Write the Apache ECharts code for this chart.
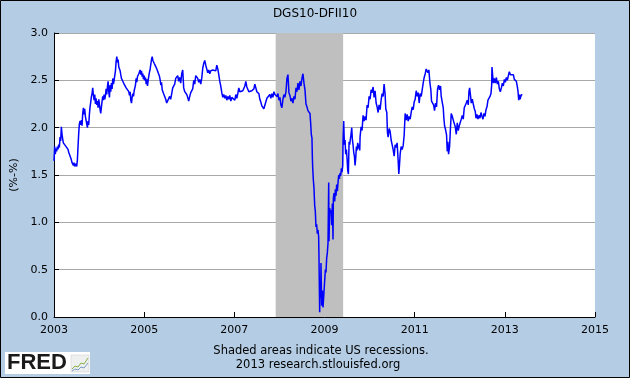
<!DOCTYPE html>
<html>
<head>
<meta charset="utf-8">
<script src="https://cdn.jsdelivr.net/npm/echarts@6/dist/echarts.min.js"></script>
<style>
html,body{margin:0;padding:0;background:#b4cde5;}
#chart{width:630px;height:378px;}
</style>
</head>
<body>
<div id="chart"></div>
<script>
var chartTitle = 'DGS10-DFII10';
var yAxisName = '(%-%)';
var xTickLabels = ['2003','2005','2007','2009','2011','2013','2015'];
var yTickLabels = ['0.0','0.5','1.0','1.5','2.0','2.5','3.0'];
var recessions = [[2007.917, 2009.414]];
var footerLines = ['Shaded areas indicate US recessions.', '2013 research.stlouisfed.org'];

var years = [
2003.000,2003.015,2003.030,2003.044,2003.059,2003.074,2003.089,2003.104,2003.119,2003.133,
2003.148,2003.163,2003.178,2003.193,2003.207,2003.222,2003.237,2003.252,2003.267,2003.281,
2003.296,2003.311,2003.326,2003.341,2003.356,2003.370,2003.385,2003.400,2003.415,2003.430,
2003.444,2003.459,2003.474,2003.489,2003.504,2003.519,2003.533,2003.548,2003.563,2003.578,
2003.593,2003.607,2003.622,2003.637,2003.652,2003.667,2003.681,2003.696,2003.711,2003.726,
2003.741,2003.756,2003.770,2003.785,2003.800,2003.815,2003.830,2003.844,2003.859,2003.874,
2003.889,2003.904,2003.919,2003.933,2003.948,2003.963,2003.978,2003.993,2004.007,2004.022,
2004.037,2004.052,2004.067,2004.081,2004.096,2004.111,2004.126,2004.141,2004.156,2004.170,
2004.185,2004.200,2004.215,2004.230,2004.244,2004.259,2004.274,2004.289,2004.304,2004.319,
2004.333,2004.348,2004.363,2004.378,2004.393,2004.407,2004.422,2004.437,2004.452,2004.467,
2004.481,2004.496,2004.511,2004.526,2004.541,2004.556,2004.570,2004.585,2004.600,2004.615,
2004.630,2004.644,2004.659,2004.674,2004.689,2004.704,2004.719,2004.733,2004.748,2004.763,
2004.778,2004.793,2004.807,2004.822,2004.837,2004.852,2004.867,2004.881,2004.896,2004.911,
2004.926,2004.941,2004.956,2004.970,2004.985,2005.000,2005.015,2005.030,2005.044,2005.059,
2005.074,2005.089,2005.104,2005.119,2005.133,2005.148,2005.163,2005.178,2005.193,2005.207,
2005.222,2005.237,2005.252,2005.267,2005.281,2005.296,2005.311,2005.326,2005.341,2005.356,
2005.370,2005.385,2005.400,2005.415,2005.430,2005.444,
2005.455,2005.478,2005.500,2005.522,2005.544,2005.566,2005.588,2005.611,2005.633,2005.655,
2005.677,2005.700,2005.722,2005.744,2005.766,2005.788,2005.811,2005.833,2005.855,2005.877,
2005.900,2005.922,2005.944,2005.966,2005.988,2006.011,2006.033,2006.055,2006.077,2006.100,
2006.122,2006.144,2006.166,2006.188,2006.211,2006.233,2006.255,2006.277,2006.300,2006.322,
2006.344,2006.366,2006.388,2006.411,2006.433,2006.455,2006.477,2006.499,2006.522,2006.544,
2006.566,2006.588,2006.611,2006.633,2006.655,2006.677,2006.699,2006.722,2006.744,2006.766,
2006.788,2006.811,2006.833,2006.855,2006.877,2006.899,2006.922,2006.944,2006.966,2006.988,
2007.011,2007.033,2007.055,2007.077,2007.099,2007.122,2007.144,2007.166,2007.188,2007.211,
2007.233,2007.255,2007.277,2007.299,2007.322,2007.344,2007.366,2007.388,2007.410,2007.433,
2007.455,2007.477,2007.499,2007.522,2007.544,2007.566,2007.588,2007.610,2007.633,2007.655,
2007.677,2007.699,2007.722,2007.744,2007.766,2007.788,2007.810,2007.833,2007.855,
2007.878,2007.900,2007.922,2007.945,2007.967,2007.989,2008.011,2008.033,2008.056,2008.078,
2008.100,2008.122,2008.145,2008.167,2008.189,2008.211,2008.233,2008.256,2008.278,2008.300,
2008.322,2008.345,2008.367,2008.389,2008.411,2008.433,2008.456,2008.478,2008.500,2008.522,
2008.545,2008.567,2008.589,2008.611,2008.633,2008.656,2008.678,2008.693,2008.707,2008.722,
2008.730,2008.737,2008.752,2008.767,2008.782,2008.796,2008.811,2008.826,2008.841,2008.856,
2008.870,2008.878,2008.885,2008.893,2008.900,2008.915,2008.922,2008.937,2008.952,2008.967,
2008.982,2008.996,2009.004,2009.019,2009.033,2009.048,2009.063,2009.078,2009.093,2009.100,
2009.115,2009.130,2009.145,2009.159,2009.174,2009.189,2009.196,2009.211,2009.226,2009.241,
2009.256,2009.270,2009.285,2009.300,2009.315,2009.330,2009.345,2009.359,2009.374,2009.389,
2009.404,2009.411,2009.426,2009.441,2009.456,2009.470,2009.485,2009.500,2009.515,2009.530,
2009.545,2009.559,2009.574,2009.589,2009.604,2009.619,2009.633,2009.648,2009.663,2009.678,
2009.693,2009.707,2009.722,2009.737,2009.752,2009.767,2009.782,
2009.789,2009.811,2009.833,2009.856,2009.878,2009.900,2009.922,2009.945,2009.967,2009.989,
2010.011,2010.034,2010.056,2010.078,2010.100,2010.122,2010.145,2010.167,2010.189,2010.211,
2010.234,2010.256,2010.278,2010.300,2010.322,2010.345,2010.359,2010.382,2010.396,2010.411,
2010.434,2010.456,2010.478,2010.500,2010.522,2010.545,2010.567,2010.589,2010.611,2010.634,
2010.648,2010.663,2010.678,2010.700,2010.722,2010.745,2010.767,2010.789,2010.811,2010.834,
2010.856,2010.878,2010.900,2010.922,2010.945,2010.967,2010.989,2011.011,2011.034,2011.056,
2011.078,2011.100,2011.122,2011.145,2011.167,2011.189,2011.211,2011.234,2011.256,2011.271,
2011.293,2011.315,2011.337,2011.359,2011.374,2011.397,2011.419,2011.441,2011.463,2011.485,
2011.508,2011.530,2011.552,2011.574,2011.589,2011.611,2011.634,2011.648,2011.663,2011.685,
2011.708,2011.722,2011.737,2011.752,2011.774,
2011.789,2011.811,2011.834,2011.856,2011.878,2011.900,2011.923,2011.945,2011.967,2011.989,
2012.011,2012.034,2012.056,2012.078,2012.100,2012.123,2012.145,2012.167,2012.189,2012.204,
2012.219,2012.241,2012.256,2012.278,2012.300,2012.323,2012.345,2012.360,2012.382,2012.404,
2012.426,2012.448,2012.471,2012.493,2012.515,2012.537,2012.560,2012.582,2012.604,2012.626,
2012.649,2012.671,2012.693,2012.708,2012.715,2012.730,2012.745,2012.767,2012.789,2012.812,
2012.834,2012.856,2012.878,2012.900,2012.923,2012.945,2012.967,2012.989,2013.011,2013.034,
2013.056,2013.078,2013.100,2013.123,2013.145,2013.167,2013.189,2013.211,2013.234,2013.256,
2013.278,2013.293,2013.308,2013.323,2013.337,2013.352,2013.367,2013.382
];

var spread = [
1.65,1.80,1.72,1.78,1.75,1.80,1.77,1.82,1.79,1.90,
1.86,2.01,1.93,1.88,1.84,1.82,1.86,1.81,1.83,1.79,
1.81,1.77,1.74,1.72,1.70,1.68,1.66,1.63,1.61,1.60,
1.63,1.59,1.58,1.62,1.59,1.66,1.80,1.94,2.04,2.07,
2.03,2.08,2.02,2.15,2.21,2.14,2.20,2.12,2.08,2.04,
2.00,2.07,2.03,2.14,2.22,2.27,2.33,2.36,2.42,2.34,
2.29,2.35,2.25,2.31,2.24,2.28,2.21,2.30,2.25,2.19,
2.15,2.22,2.28,2.33,2.29,2.35,2.30,2.34,2.41,2.35,
2.43,2.49,2.38,2.32,2.45,2.38,2.47,2.41,2.52,2.46,
2.50,2.48,2.60,2.70,2.75,2.69,2.72,2.64,2.66,2.60,
2.56,2.52,2.54,2.49,2.51,2.46,2.44,2.47,2.42,2.44,
2.40,2.43,2.38,2.34,2.38,2.29,2.26,2.32,2.36,2.33,
2.39,2.41,2.45,2.52,2.48,2.54,2.52,2.57,2.55,2.61,
2.56,2.60,2.54,2.57,2.51,2.55,2.50,2.53,2.46,2.51,
2.44,2.50,2.55,2.59,2.62,2.67,2.72,2.75,2.71,2.73,
2.68,2.70,2.65,2.66,2.62,2.64,2.58,2.60,2.54,2.50,
2.45,2.48,2.40,2.42,2.36,2.38,
2.33,2.30,2.26,2.24,2.28,2.33,2.30,2.36,2.42,2.40,
2.46,2.52,2.50,2.55,2.49,2.53,2.47,2.57,2.61,2.42,
2.38,2.40,2.35,2.32,2.28,2.33,2.37,2.35,2.41,2.50,
2.46,2.55,2.57,2.52,2.48,2.51,2.46,2.52,2.63,2.68,
2.71,2.66,2.64,2.58,2.61,2.57,2.60,2.58,2.61,2.59,
2.63,2.60,2.66,2.62,2.56,2.49,2.44,2.37,2.32,2.35,
2.31,2.34,2.29,2.33,2.30,2.34,2.28,2.32,2.30,2.33,
2.29,2.35,2.31,2.36,2.42,2.38,2.40,2.36,2.39,2.37,
2.44,2.49,2.43,2.45,2.38,2.40,2.36,2.39,2.37,2.41,
2.46,2.42,2.38,2.40,2.36,2.30,2.27,2.23,2.21,2.20,
2.19,2.22,2.31,2.29,2.33,2.35,2.31,2.36,2.32,
2.38,2.35,2.37,2.33,2.36,2.29,2.32,2.24,2.21,2.30,
2.35,2.32,2.38,2.52,2.56,2.37,2.34,2.28,2.31,2.26,
2.33,2.30,2.42,2.38,2.47,2.40,2.49,2.44,2.52,2.57,
2.47,2.40,2.25,2.22,2.18,2.20,2.15,2.05,1.93,1.89,
1.70,1.59,1.45,1.36,1.18,1.12,0.95,0.98,0.88,0.92,
0.85,0.62,0.60,0.05,0.30,0.20,0.57,0.12,0.28,0.10,
0.08,0.09,0.12,0.50,0.47,0.62,0.68,0.78,1.42,0.80,
1.15,1.10,1.13,0.97,1.20,0.82,1.25,1.31,1.22,1.35,
1.28,1.40,1.33,1.42,1.50,1.46,1.52,1.49,1.57,1.53,
1.60,1.85,2.07,1.82,1.87,1.72,1.77,1.68,1.55,1.51,
1.85,1.82,1.88,1.93,2.00,1.87,1.82,1.74,1.70,1.60,
1.68,1.80,1.76,1.84,1.78,1.82,1.76,
1.90,2.01,1.97,2.13,2.07,2.12,2.08,2.24,2.21,2.33,
2.30,2.40,2.37,2.43,2.32,2.39,2.26,2.22,2.16,2.24,
2.19,2.29,2.36,2.33,2.46,2.35,2.20,2.16,1.95,1.90,
1.99,1.96,1.87,1.82,1.77,1.70,1.82,1.79,1.84,1.65,
1.51,1.60,1.72,1.80,1.77,1.81,1.92,2.15,2.08,2.14,
2.07,2.12,2.09,2.16,2.22,2.19,2.27,2.30,2.39,2.33,
2.37,2.26,2.36,2.33,2.40,2.47,2.53,2.57,2.62,2.64,
2.58,2.61,2.48,2.40,2.28,2.27,2.24,2.18,2.26,2.22,
2.41,2.45,2.40,2.44,2.33,2.27,2.21,2.10,2.02,1.98,
1.92,1.75,1.85,1.72,1.80,
1.95,2.15,2.12,2.08,2.06,2.01,1.93,2.05,1.97,2.02,
2.04,2.09,2.13,2.09,2.21,2.19,2.26,2.29,2.24,2.38,
2.42,2.33,2.26,2.30,2.25,2.20,2.17,2.10,2.14,2.09,
2.13,2.10,2.16,2.12,2.09,2.15,2.12,2.19,2.22,2.29,
2.27,2.33,2.36,2.45,2.64,2.55,2.47,2.52,2.47,2.53,
2.46,2.49,2.41,2.38,2.42,2.47,2.44,2.51,2.48,2.53,
2.50,2.55,2.59,2.56,2.58,2.54,2.56,2.51,2.53,2.49,
2.43,2.38,2.29,2.35,2.30,2.32,2.35,2.34
];

var FONT = "'DejaVu Sans', Verdana, sans-serif";
var seriesData = years.map(function (y, i) { return [y, spread[i]]; });
var recessionAreas = recessions.map(function (r) { return [{ xAxis: r[0] }, { xAxis: r[1] }]; });

var chart = echarts.init(document.getElementById('chart'), null, { renderer: 'canvas' });
chart.setOption({
  animation: false,
  backgroundColor: '#b4cde5',
  title: {
    text: chartTitle, left: 'center', top: 3,
    textStyle: { fontFamily: FONT, fontSize: 12, fontWeight: 'normal', color: '#000' }
  },
  grid: {
    left: 54, top: 33, width: 541, height: 284,
    show: true, backgroundColor: '#ffffff', borderWidth: 0
  },
  xAxis: {
    type: 'value', min: 2003, max: 2015, interval: 2,
    axisLine: { show: true, lineStyle: { color: '#000', width: 1 } },
    axisTick: { show: true, inside: true, length: 5, lineStyle: { color: '#000' } },
    splitLine: { show: false },
    axisLabel: {
      margin: 8, color: '#000', fontFamily: FONT, fontSize: 11,
      formatter: function (v) { var i = xTickLabels.indexOf(String(v)); return i >= 0 ? xTickLabels[i] : ''; }
    }
  },
  yAxis: {
    type: 'value', min: 0, max: 3, interval: 0.5,
    name: yAxisName, nameLocation: 'middle', nameGap: 32, nameRotate: 90,
    nameTextStyle: { fontFamily: FONT, fontSize: 11, color: '#000' },
    axisLine: { show: true, lineStyle: { color: '#000', width: 1 } },
    axisTick: { show: true, inside: true, length: 5, lineStyle: { color: '#000' } },
    splitLine: { show: true, lineStyle: { color: '#a8a8a8', width: 1 } },
    axisLabel: {
      margin: 6, color: '#000', fontFamily: FONT, fontSize: 11,
      formatter: function (v) { return yTickLabels[Math.round(v * 2)]; }
    }
  },
  series: [{
    type: 'line',
    data: seriesData,
    showSymbol: false,
    symbol: 'none',
    sampling: null,
    lineStyle: { color: '#0000ff', width: 1.5 },
    z: 3,
    markArea: {
      silent: true,
      itemStyle: { color: '#bfbfbf', opacity: 1 },
      data: recessionAreas
    }
  }],
  graphic: [
    { type: 'rect', shape: { x: 0.5, y: 0.5, width: 629, height: 377 },
      style: { fill: 'none', stroke: '#000', lineWidth: 1 }, z: 100 },
    { type: 'text', x: 321, y: 351,
      style: { text: footerLines[0], fill: '#000', font: '11.5px ' + FONT, textAlign: 'center', textVerticalAlign: 'middle' } },
    { type: 'text', x: 318, y: 365,
      style: { text: footerLines[1], fill: '#000', font: '11.5px ' + FONT, textAlign: 'center', textVerticalAlign: 'middle' } },
    { type: 'group', x: 5, y: 352, children: [
      { type: 'rect', shape: { x: 0, y: 0, width: 85, height: 22 }, style: { fill: '#ffffff' } },
      { type: 'text', x: 2, y: 11,
        style: { text: 'FRED', fill: '#1a1a1a', font: 'bold 22px "Liberation Sans", Arial, sans-serif', textVerticalAlign: 'middle' } },
      { type: 'rect', shape: { x: 66, y: 3, width: 18, height: 17 }, style: { fill: '#eef0f0', stroke: '#c8c8c8', lineWidth: 0.5 } },
      { type: 'polyline', shape: { points: [[67, 17], [70, 14], [73, 15], [76, 11], [79, 12], [83, 6]] },
        style: { stroke: '#88b04b', lineWidth: 1, fill: 'none' } },
      { type: 'polyline', shape: { points: [[67, 19], [70, 17], [73, 18], [76, 15], [79, 16], [83, 11]] },
        style: { stroke: '#7a9cc6', lineWidth: 1, fill: 'none' } }
    ]}
  ]
});
</script>
</body>
</html>
